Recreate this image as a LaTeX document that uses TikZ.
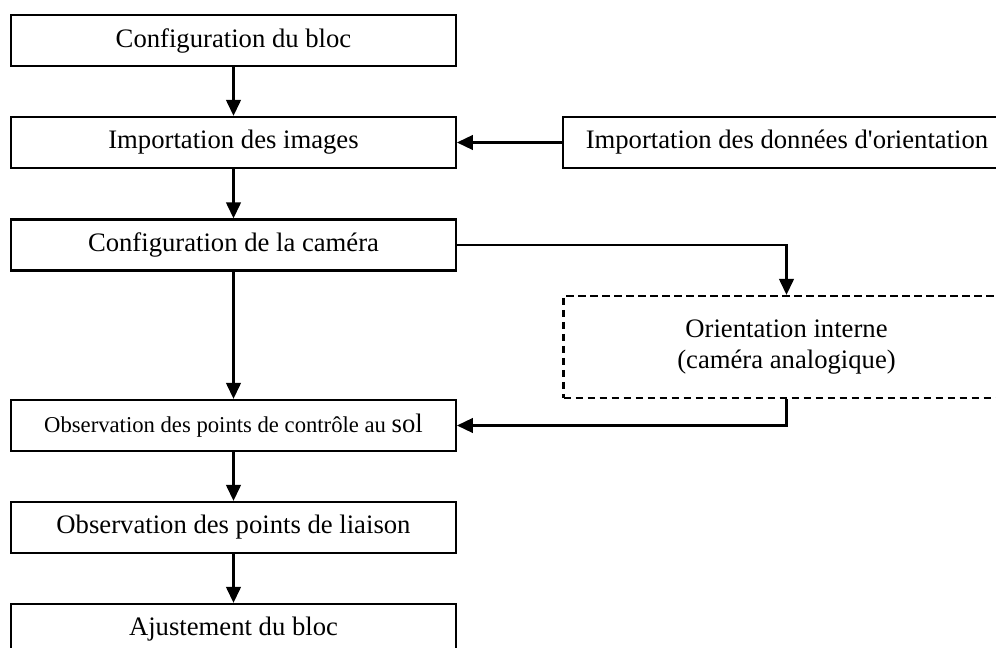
\documentclass[tikz,border=0pt]{standalone}
\usepackage{fontspec}
\setmainfont{Liberation Serif}
\usetikzlibrary{arrows.meta}

\tikzset{
    etape/.style={draw, line width=1.7pt, minimum width=333.5pt, minimum height=38.25pt,
        inner sep=0pt, align=center, font=\fontsize{20}{23}\selectfont},
    fleche/.style={line width=1.7pt, -{Triangle[length=12pt,width=11pt]}},
}

\begin{document}
\begin{tikzpicture}[x=0.75pt, y=-0.75pt]
            \useasboundingbox (0,0) rectangle (996,648);
            \clip (0,0) rectangle (996,648);

            \node[etape] (bloc) at (233.5,40.5) {Configuration du bloc};
            \node[etape] (images) at (233.5,142.5) {Importation des images};
            \node[etape] (camera) at (233.5,245) {Configuration de la caméra};
            \node[etape] (gcp) at (233.5,425.5)
               {\fontsize{17}{20}\selectfont Observation des points de contrôle au {\fontsize{20}{23}\selectfont sol}};
            \node[etape] (liaison) at (233.5,527.5) {Observation des points de liaison};
            \node[etape] (ajust) at (233.5,629.5) {Ajustement du bloc};

            \node[etape, minimum width=336pt] (donnees) at (787,142.5)
               {Importation des données d\textquotesingle orientation};
            \node[etape, minimum width=334.5pt, minimum height=76.5pt, dash pattern=on 5.5pt off 3.5pt]
               (orient) at (786.5,347) {Orientation interne\\(caméra analogique)};

            \draw[fleche] (bloc) -- (images);
            \draw[fleche] (images) -- (camera);
            \draw[fleche] (camera) -- (gcp);
            \draw[fleche] (gcp) -- (liaison);
            \draw[fleche] (liaison) -- (ajust);
            \draw[fleche] (donnees) -- (images);
            \draw[fleche] (camera.east) -| (orient.north);
            \draw[fleche] (orient.south) |- (gcp.east);
        \end{tikzpicture}
\end{document}
